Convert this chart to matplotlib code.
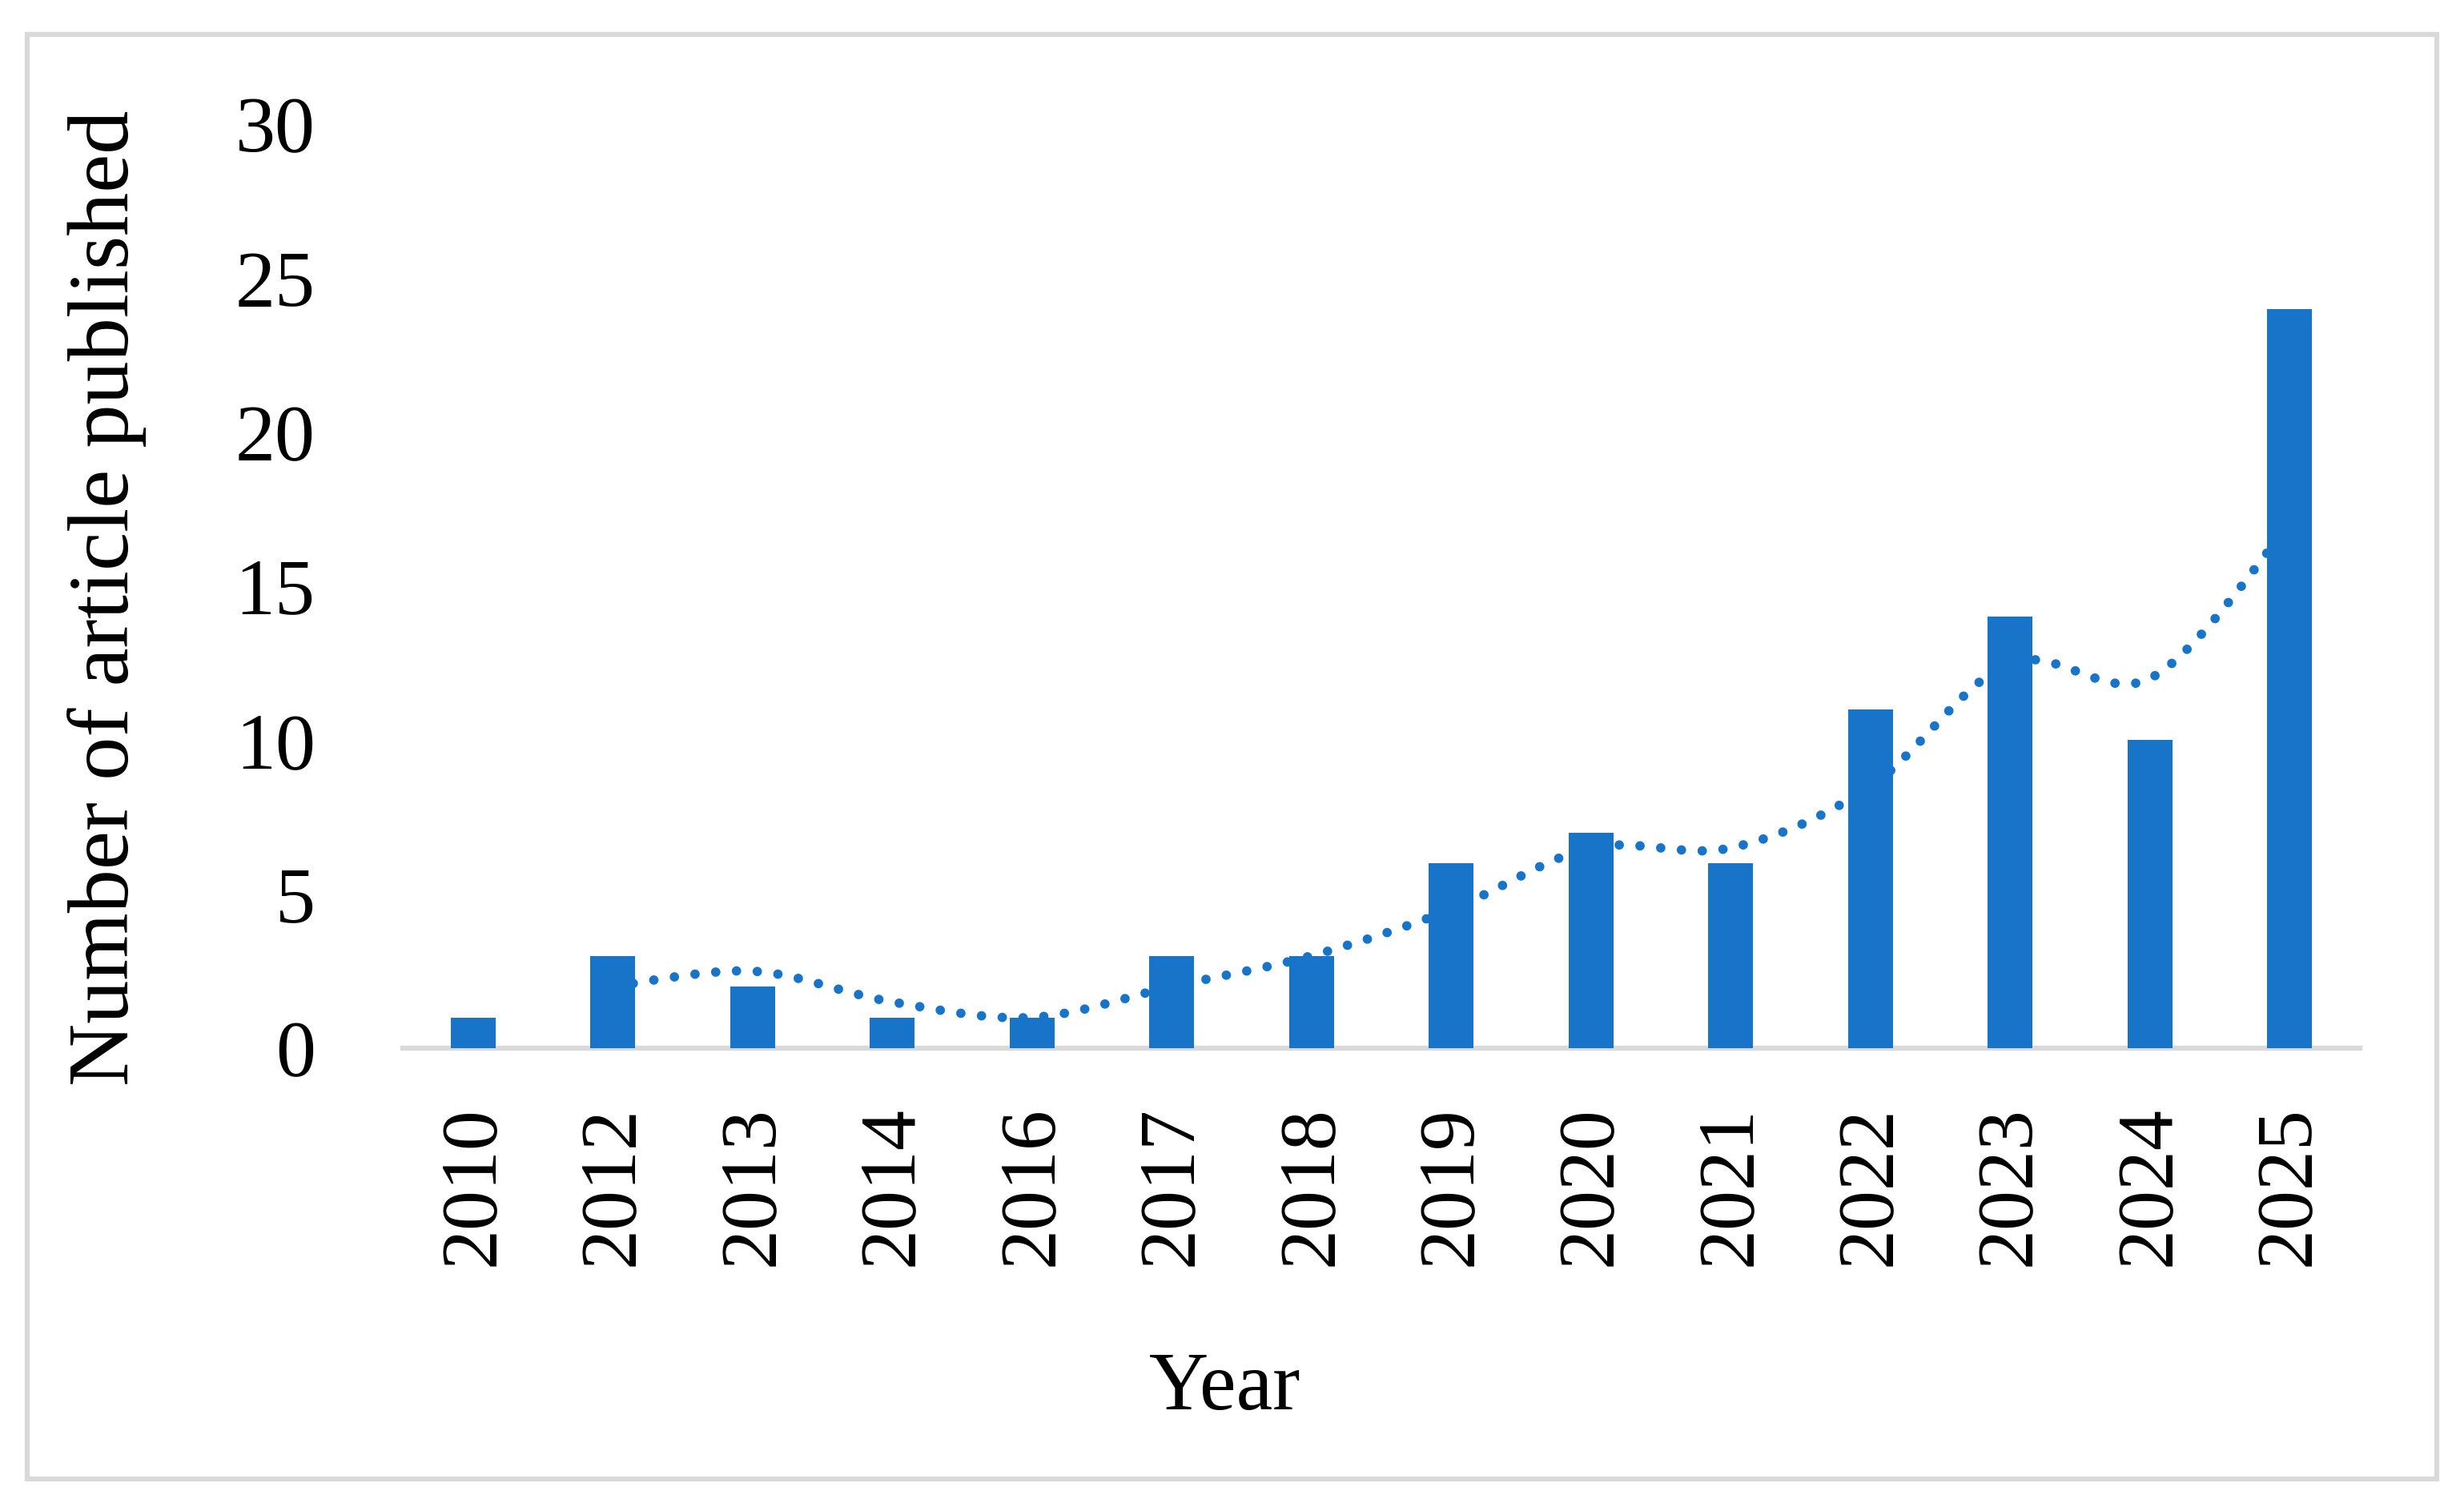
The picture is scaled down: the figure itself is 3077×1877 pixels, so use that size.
import numpy as np
import matplotlib
matplotlib.use("Agg")
import matplotlib.pyplot as plt
from matplotlib.path import Path
from matplotlib.patches import PathPatch, Rectangle

years = ["2010", "2012", "2013", "2014", "2016", "2017", "2018",
         "2019", "2020", "2021", "2022", "2023", "2024", "2025"]
articles = [1, 3, 2, 1, 1, 3, 3, 6, 7, 6, 11, 14, 10, 24]
# 2-period moving average trend (starts at 2012)
trend = [2, 2.5, 1.5, 1, 2, 3, 4.5, 6.5, 6.5, 8.5, 12.5, 12, 17]

blue = "#1874C8"
grey = "#D9D9D9"
plt.rcParams["font.family"] = ["Liberation Serif", "DejaVu Serif"]

fig = plt.figure(figsize=(30.77, 18.77), dpi=100)
ax = fig.add_axes([0.1636, 0.3026, 0.794, 0.615])

x = np.arange(len(years))
ax.bar(x, articles, width=0.32, color=blue, zorder=2)

# smoothed trend line (bezier through the trend points, like excel's smoothing)
tx = x[1:]
pts = np.column_stack([tx, trend])
verts = [pts[0]]
codes = [Path.MOVETO]
for i in range(len(pts) - 1):
    p0 = pts[i - 1] if i > 0 else pts[i]
    p1 = pts[i]
    p2 = pts[i + 1]
    p3 = pts[i + 2] if i + 2 < len(pts) else pts[i + 1]
    verts += [p1 + (p2 - p0) / 6, p2 - (p3 - p1) / 6, p2]
    codes += [Path.CURVE4] * 3
patch = PathPatch(Path(verts, codes), fill=False, ec=blue, lw=8.5,
                  linestyle=(0, (0.001, 2.2)), capstyle="round", zorder=3)
ax.add_patch(patch)

ax.set_xlim(-0.5, len(years) - 0.5)
ax.set_ylim(0, 30)
ax.set_yticks(range(0, 31, 5))
ax.set_xticks(x)
ax.set_xticklabels(years, rotation=90, va="top", ha="center")
ax.tick_params(axis="y", length=0, pad=79, labelsize=72)
ax.tick_params(axis="x", length=0, pad=52, labelsize=72)

for s in ["top", "right", "left"]:
    ax.spines[s].set_visible(False)
ax.spines["bottom"].set_color(grey)
ax.spines["bottom"].set_linewidth(4.5)
ax.spines["bottom"].set_zorder(1)

fig.text(0.0435, 0.602, "Number of article published", rotation=90,
         ha="center", va="center", fontsize=78)
fig.text(0.497, 0.0754, "Year", ha="center", va="center", fontsize=74)

fig.patches.append(Rectangle((0.011, 0.016), 0.978, 0.961, transform=fig.transFigure,
                             fill=False, ec=grey, lw=4.5))

fig.savefig("out.png", dpi=100)
